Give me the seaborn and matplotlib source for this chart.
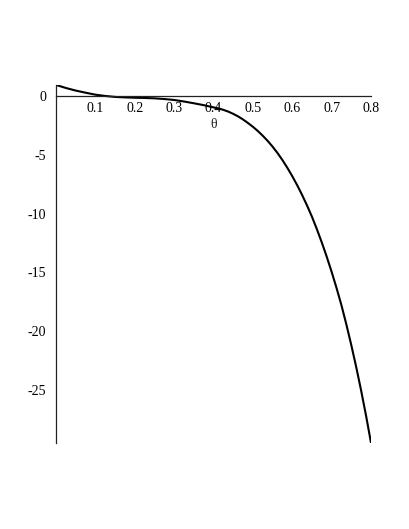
import numpy as np
import pandas as pd
import matplotlib
matplotlib.use("Agg")
import matplotlib.pyplot as plt
from matplotlib.ticker import MultipleLocator
import seaborn as sns

# valores
theta = [0.0000, 0.0125, 0.0250, 0.0375, 0.0500, 0.0750, 0.1000, 0.1250, 0.1500,
         0.1750, 0.2000, 0.2250, 0.2500, 0.2750, 0.3000, 0.3250, 0.3500, 0.3750,
         0.4000, 0.4125, 0.4250, 0.4375, 0.4500, 0.4625, 0.4750, 0.4875, 0.5000,
         0.5125, 0.5250, 0.5375, 0.5500, 0.5625, 0.5750, 0.5875, 0.6000, 0.6125,
         0.6250, 0.6375, 0.6500, 0.6625, 0.6750, 0.6875, 0.7000, 0.7125, 0.7250,
         0.7375, 0.7500, 0.7625, 0.7750, 0.7875, 0.8000]
valor = [0.96, 0.83, 0.70, 0.59, 0.48, 0.30, 0.13, 0.02, -0.06,
         -0.10, -0.13, -0.15, -0.18, -0.24, -0.32, -0.45, -0.60, -0.76,
         -0.95, -1.04, -1.16, -1.31, -1.50, -1.72, -1.98, -2.28, -2.60,
         -2.96, -3.36, -3.80, -4.29, -4.83, -5.43, -6.09, -6.80, -7.57,
         -8.40, -9.29, -10.25, -11.31, -12.44, -13.65, -14.94, -16.32, -17.79,
         -19.43, -21.18, -23.05, -25.05, -27.19, -29.48]
x_ticks = [0.1, 0.2, 0.3, 0.4, 0.5, 0.6, 0.7, 0.8]
y_ticks = [0, -5, -10, -15, -20, -25]

df = pd.DataFrame({"theta": theta, "valor": valor})

sns.set_theme(style="white")
plt.rcParams["font.family"] = ["Liberation Serif", "DejaVu Serif"]

fig = plt.figure(figsize=(4.09, 5.29), dpi=100)
ax = fig.add_axes([0.137, 0.163, 0.770, 0.676])

sns.lineplot(data=df, x="theta", y="valor", color="black", linewidth=1.5, ax=ax)

ax.set_xlim(0, 0.8)
ax.set_ylim(-29.5, 0.94)

ax.spines["top"].set_visible(False)
ax.spines["right"].set_visible(False)
ax.spines["bottom"].set_position(("data", 0))
ax.spines["left"].set_position(("data", 0))
for s in ("bottom", "left"):
    ax.spines[s].set_color("#222222")
    ax.spines[s].set_linewidth(0.9)

ax.set_xticks(x_ticks)
ax.set_xticklabels([f"{t:g}" for t in x_ticks])
ax.set_yticks(y_ticks)
ax.set_yticklabels([f"{t:g}" for t in y_ticks])
ax.xaxis.set_minor_locator(MultipleLocator(0.02))
ax.yaxis.set_minor_locator(MultipleLocator(1))
ax.tick_params(axis="both", which="major", length=3, width=0.6, color="#aaaaaa",
               direction="out", labelsize=10, labelcolor="black")
ax.tick_params(axis="both", which="minor", length=2, width=0.5, color="#cccccc",
               direction="out")
ax.tick_params(axis="x", which="major", pad=1)
ax.tick_params(axis="y", which="major", pad=4)

ax.set_xlabel("")
ax.set_ylabel("")
ax.text(0.4, -2.45, "θ", ha="center", va="center", fontsize=10)

fig.savefig("out.png", dpi=100)
